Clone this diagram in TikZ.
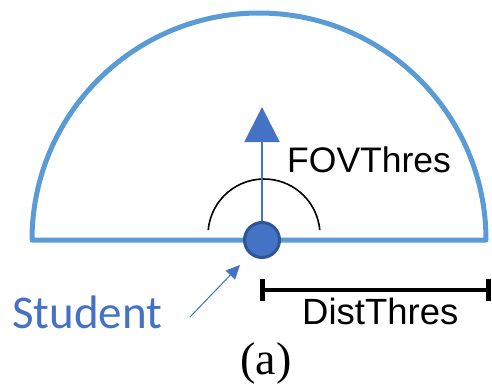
\documentclass[tikz,border=0pt]{standalone}
\usepackage{fontspec}
\setmainfont{Liberation Serif}
\newfontfamily\arialfont{Liberation Sans}
\newfontfamily\calfont{Carlito}
\usetikzlibrary{arrows.meta}
\definecolor{fovblue}{HTML}{5B9BD5}
\definecolor{stublue}{HTML}{4472C4}
\definecolor{stuedge}{HTML}{2F5597}
\tikzset{
  fovline/.style={draw=fovblue, line width=5pt, line join=round},
  lbl/.style={inner sep=0pt, anchor=base west},
  headarrow/.style={draw=stublue, line width=2pt, -{Triangle[length=35pt,width=35pt]}},
  thinarrow/.style={draw=stublue, line width=1pt, -{Triangle[length=14pt,width=13pt]}},
  fovarc/.style={draw=black, line width=1.6pt},
  distbar/.style={draw=black, line width=4pt},
  capbox/.style={fill=black, draw=none, minimum width=5pt, minimum height=22pt, inner sep=0pt},
}
\begin{document}
\begin{tikzpicture}[x=1pt,y=1pt]
\useasboundingbox (0,0) rectangle (492,384);
% field of view semicircle
\draw[fovline] (32,144) arc[start angle=180, end angle=0, radius=227] -- cycle;
% FOV arc
\draw[fovarc] (264,149) ++(175:56) arc[start angle=175, end angle=5, radius=56];
% heading arrow
\coordinate (tip) at (262,277);
\node[circle, fill=stublue, draw=stuedge, line width=3pt, minimum size=35pt, inner sep=0pt] (stu) at (262,144) {};
\draw[headarrow] (stu.north) -- (tip);
% labels
\node[lbl, font=\arialfont\fontsize{35.5}{40}\selectfont] (fov) at (287,212) {FOVThres};
\node[lbl, font=\arialfont\fontsize{36.5}{40}\selectfont] (dist) at (302,60) {DistThres};
\node[lbl, text=stublue, font=\calfont\fontsize{47}{52}\selectfont] (student) at (12,56) {Student};
\node[inner sep=0pt, anchor=base, font=\fontsize{46}{50}\selectfont] (cap) at (266,10) {(a)};
% pointer
\coordinate (pstart) at (190,67);
\coordinate (pend) at (240,119);
\draw[thinarrow] (pstart) -- (pend);
% distance bar
\node[capbox] (dl) at (262,94) {};
\node[capbox] (dr) at (488,94) {};
\draw[distbar] (dl.center) -- (dr.center);
\end{tikzpicture}
\end{document}
